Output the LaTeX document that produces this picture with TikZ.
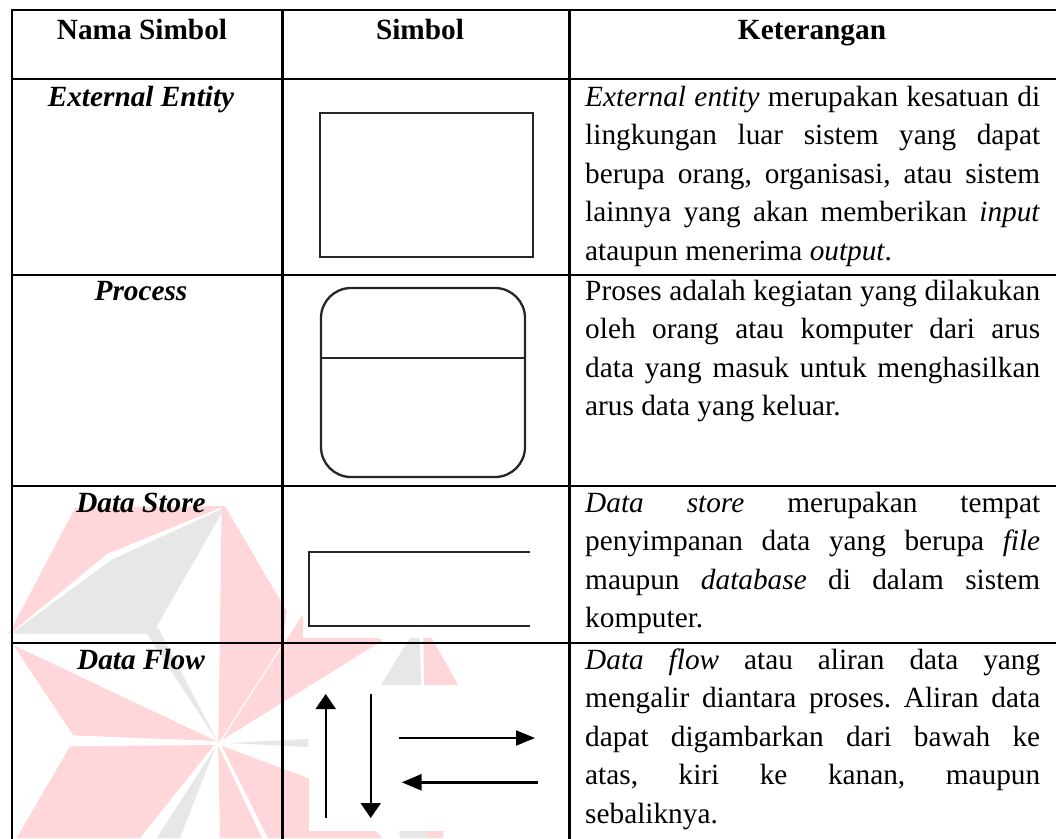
\documentclass[tikz,border=0pt]{standalone}
\usepackage{fontspec}
\setmainfont{Liberation Serif}
\usetikzlibrary{arrows.meta}
\definecolor{wmred}{RGB}{255,214,218}
\definecolor{wmgray}{RGB}{231,231,231}
\definecolor{symcol}{RGB}{38,38,38}
\newcommand\jline[1]{\makebox[455pt][s]{#1}}
\frenchspacing
\begin{document}
\frenchspacing
\begin{tikzpicture}[x=1pt,y=-1pt,
  font=\fontsize{29.3}{38.5}\selectfont,
  grid/.style={line width=2.3pt, black},
  wmr/.style={fill=wmred, draw=none},
  wmg/.style={fill=wmgray, draw=none},
  sym/.style={line width=2.3pt, draw=symcol},
  hd/.style={font=\fontsize{29.3}{38.5}\selectfont\bfseries, anchor=base, inner sep=0},
  lbl/.style={font=\fontsize{29.3}{38.5}\selectfont\bfseries\itshape, anchor=base, inner sep=0},
  txt/.style={anchor=base west, inner sep=0},
  vflow/.style={line width=2pt, draw=black, -{Triangle[length=15pt,width=20pt]}},
  hflow/.style={line width=2pt, draw=black, -{Triangle[length=19pt,width=15pt]}}
]
\useasboundingbox (0,0) rectangle (1056,838);
\fill[white] (0,0) rectangle (1056,838);

% watermark
\begin{scope}
\clip (0,0) rectangle (1056,838);
\fill[wmr] (8.3,635) -- (75,508) -- (225,506) -- (106.7,554) -- cycle;
\fill[wmg] (13.3,632) -- (111.7,559.7) -- (225,507.5) -- (156.7,626.3) -- (160,631.3) -- (218.3,743) -- (146.7,633.7) -- (13.3,633.7) -- cycle;
\fill[wmr] (218.3,743) -- (221.7,506.3) -- (225,506.3) -- (286.7,611.3) -- (281.7,645) -- cycle;
\fill[wmr] (222,740) -- (301.7,616.3) -- (383.3,640) -- cycle;
\fill[wmg] (228,743) -- (308.3,739) -- (308.3,747) -- cycle;
\fill[wmr] (222,746) -- (340,790) -- (382,838) -- (268,838) -- cycle;
\fill[wmr] (218.3,746) -- (262,838) -- (220,838) -- cycle;
\fill[wmg] (216,746) -- (180,838) -- (156.7,838) -- cycle;
\fill[wmr] (70,746.3) -- (214,745) -- (140,838) -- (16.7,838) -- cycle;
\fill[wmr] (13.3,645) -- (216,741) -- (73.3,735.3) -- cycle;
\fill[wmg] (419,623) -- (381,685) -- (400,838) -- (427,838) -- cycle;
\fill[wmr] (423,622) -- (458,685) -- (443,838) -- (427,838) -- cycle;
\end{scope}

% white backgrounds of the symbol pictures
\fill[white] (303,541) rectangle (537,638);
\fill[white] (309,685) rectangle (547,831);

% symbols
\draw[sym] (320,113) rectangle (533,257);
\draw[sym, rounded corners=30pt] (321,288) rectangle (525,477);
\draw[sym] (321,358) -- (525,358);
\draw[sym, line width=2.8pt] (530,552) -- (309,552) -- (309,626) -- (530,626);

\coordinate (upS) at (325.7,818);
\coordinate (upE) at (325.7,694);
\coordinate (dnS) at (370.7,694);
\coordinate (dnE) at (370.7,818);
\coordinate (rtS) at (399,738);
\coordinate (rtE) at (535,738);
\coordinate (ltS) at (537.7,782.3);
\coordinate (ltE) at (401.7,782.3);
\draw[vflow] (upS) -- (upE);
\draw[vflow, line width=2.2pt] (dnS) -- (dnE);
\draw[hflow] (rtS) -- (rtE);
\draw[hflow, line width=2.8pt, -{Triangle[length=20pt,width=16pt]}] (ltS) -- (ltE);

% table grid
\foreach \yy in {10,79,275,486,643} \draw[grid] (11.7,\yy) -- (1060,\yy);
\foreach \xx in {11.7,282.5,569.5} \draw[grid] (\xx,8.85) -- (\xx,845);

% header
\node[hd] (h1) at (142,39) {Nama Simbol};
\node[hd] (h2) at (420,39) {Simbol};
\node[hd] (h3) at (812,39) {Keterangan};

% labels
\node[lbl] (l1) at (141,106) {External Entity};
\node[lbl] (l2) at (141,300) {Process};
\node[lbl] (l3) at (141,512) {Data Store};
\node[lbl] (l4) at (141,669) {Data Flow};

% descriptions
\node[txt] (a1) at (585,106) {\jline{\emph{External entity} merupakan kesatuan di}};
\node[txt] (a2) at (585,144.5) {\jline{lingkungan luar sistem yang dapat}};
\node[txt] (a3) at (585,183) {\jline{berupa orang, organisasi, atau sistem}};
\node[txt] (a4) at (585,221.5) {\jline{lainnya yang akan memberikan \emph{input}}};
\node[txt] (a5) at (585,260) {ataupun menerima \emph{output}.};

\node[txt] (b1) at (585,300) {\jline{Proses adalah kegiatan yang dilakukan}};
\node[txt] (b2) at (585,338.5) {\jline{oleh orang atau komputer dari arus}};
\node[txt] (b3) at (585,377) {\jline{data yang masuk untuk menghasilkan}};
\node[txt] (b4) at (585,415.5) {arus data yang keluar.};

\node[txt] (c1) at (585,512) {\jline{\emph{Data store} merupakan tempat}};
\node[txt] (c2) at (585,550.5) {\jline{penyimpanan data yang berupa \emph{file}}};
\node[txt] (c3) at (585,589) {\jline{maupun \emph{database} di dalam sistem}};
\node[txt] (c4) at (585,627.5) {komputer.};

\node[txt] (d1) at (585,669) {\jline{\emph{Data flow} atau aliran data yang}};
\node[txt] (d2) at (585,707.5) {\jline{mengalir diantara proses. Aliran data}};
\node[txt] (d3) at (585,746) {\jline{dapat digambarkan dari bawah ke}};
\node[txt] (d4) at (585,784.5) {\jline{atas, kiri ke kanan, maupun}};
\node[txt] (d5) at (585,823) {sebaliknya.};
\end{tikzpicture}
\end{document}
